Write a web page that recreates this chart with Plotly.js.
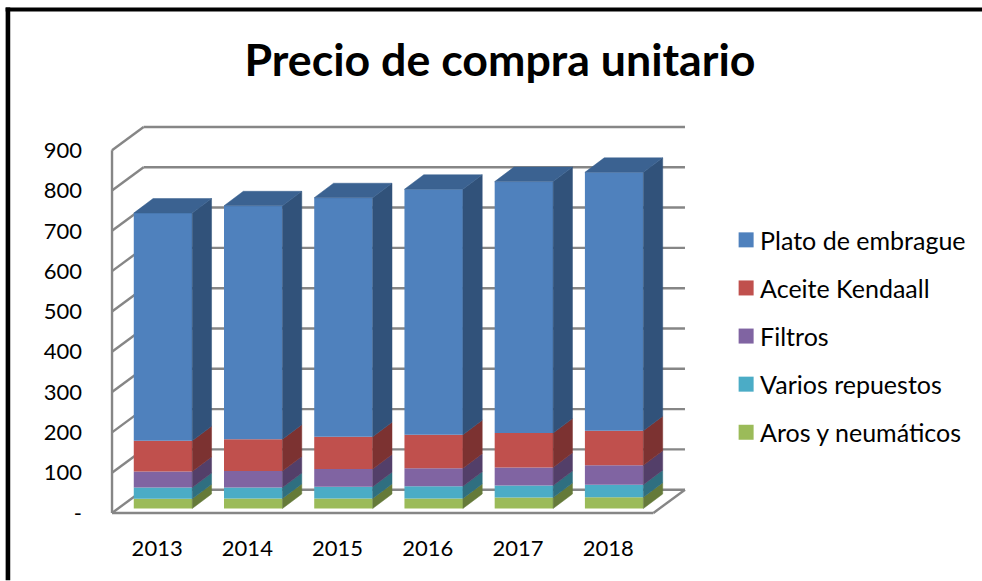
<!DOCTYPE html>
<html>
<head>
<meta charset="utf-8">
<script src="https://cdn.plot.ly/plotly-3.0.1.min.js"></script>
<style>html,body{margin:0;padding:0;background:#fff;overflow:hidden}#chart{width:982px;height:581px}</style>
</head>
<body>
<div id="chart"></div>
<script>
// ---------- data ----------
var years = ['2013','2014','2015','2016','2017','2018'];
var aros      = [24, 25, 25, 25, 27, 28];
var varios    = [28, 27, 29, 30, 30, 31];
var filtros   = [40, 41, 44, 45, 45, 48];
var aceite    = [76, 79, 80, 83, 85, 86];
var plato     = [565, 579, 593, 609, 624, 641];
var yTickVals = [0,100,200,300,400,500,600,700,800,900];
var yTickText = ['-','100','200','300','400','500','600','700','800','900'];

var names  = ['Aros y neumáticos','Varios repuestos','Filtros','Aceite Kendaall','Plato de embrague'];
var values = [aros, varios, filtros, aceite, plato];
var front  = ['#9bbb59','#4bacc6','#8064a2','#c0504d','#4f81bd'];
var side   = ['#657a39','#2f6f80','#533f69','#7c3231','#31527a'];
var topCol = '#3b6291';
var gridCol = '#868686';
var FONT = 'Lato, Carlito, sans-serif';

// ---------- 3-D projection parameters (axis units) ----------
var W = 982, H = 581;
var xRange = [-0.6, 5.95], yRange = [-10, 970];
var m = {l:103.3, r:288.1, t:121.7, b:63.5, pad:0, autoexpand:false};
var wallDX = 0.35, wallDY = 57.7;       // floor depth
var barDX = 0.214, barDY = 36;          // bar depth
var barShift = 0.065, barLift = 11.1;   // bar front offset from the front plane
var barW = 0.648;
var left = -0.5, right = 5.5;

function px(xp){return (xp-m.l)/(W-m.l-m.r);}
function py(yp){return 1-(yp-m.t)/(H-m.t-m.b);}

// ---------- traces ----------
var traces = [];
var centers = years.map(function(_,i){return i+barShift;});
var base = years.map(function(){return barLift;});

values.forEach(function(v,s){
  var b0 = base.slice();
  traces.push({type:'bar', name:names[s], x:centers, y:v, base:b0, width:barW,
    marker:{color:front[s], line:{width:0}}, showlegend:false, hoverinfo:'name+y'});
  var sx=[], sy=[];
  years.forEach(function(_,i){
    var xr=centers[i]+barW/2, lo=b0[i], hi=b0[i]+v[i];
    sx.push(xr,xr+barDX,xr+barDX,xr,xr,null);
    sy.push(lo,lo+barDY,hi+barDY,hi,lo,null);
    base[i]=hi;
  });
  traces.push({type:'scatter', mode:'lines', x:sx, y:sy, fill:'toself', fillcolor:side[s],
    line:{width:0.5,color:side[s]}, showlegend:false, hoverinfo:'skip'});
});
var tx=[], ty=[];
years.forEach(function(_,i){
  var xl=centers[i]-barW/2, xr=centers[i]+barW/2, h=base[i];
  tx.push(xl,xl+barDX,xr+barDX,xr,xl,null);
  ty.push(h,h+barDY,h+barDY,h,h,null);
});
traces.push({type:'scatter', mode:'lines', x:tx, y:ty, fill:'toself', fillcolor:topCol,
  line:{width:0.5,color:topCol}, showlegend:false, hoverinfo:'skip'});

// legend entries, top to bottom
[4,3,2,1,0].forEach(function(s){
  traces.push({type:'scatter', mode:'markers', name:names[s], legendgroup:names[s],
    x:[null], y:[null], marker:{symbol:'square', size:15, color:front[s]}, showlegend:true});
});

// ---------- 3-D walls drawn as shapes under the traces ----------
function ln(x0,y0,x1,y1){
  return {type:'line', layer:'below', xref:'x', yref:'y', x0:x0,y0:y0,x1:x1,y1:y1,
          line:{color:gridCol,width:2.4}};
}
var shapes = [];
yTickVals.forEach(function(t){
  shapes.push(ln(left+wallDX, t+wallDY, right+wallDX, t+wallDY));
  shapes.push(ln(left, t, left+wallDX, t+wallDY));
});
shapes.push(ln(left,0,left,900));
shapes.push(ln(left,0,right,0));
shapes.push(ln(right,0,right+wallDX,wallDY));
// outer frame: top and left edges only
shapes.push({type:'line', layer:'above', xref:'paper', yref:'paper', x0:px(6), x1:px(982), y0:py(8.9), y1:py(8.9), line:{color:'#000',width:4}});
shapes.push({type:'line', layer:'above', xref:'paper', yref:'paper', x0:px(8.3), x1:px(8.3), y0:py(7), y1:py(581), line:{color:'#000',width:4.6}});

var layout = {
  width:W, height:H, margin:m, paper_bgcolor:'#fff', plot_bgcolor:'rgba(0,0,0,0)',
  barmode:'overlay', showlegend:true,
  title:{text:'<b>Precio de compra unitario</b>', font:{family:FONT,size:44.7,color:'#000'},
    xref:'container', yref:'container', x:500/W, xanchor:'center', y:1-60/H, yanchor:'middle'},
  font:{family:FONT,size:22,color:'#000'},
  xaxis:{type:'linear', range:xRange, tickmode:'array', tickvals:[0,1,2,3,4,5], ticktext:years, automargin:false,
    showgrid:false, zeroline:false, showline:false, ticks:'', ticklabelstandoff:16, tickfont:{family:FONT,size:22,color:'#000'}},
  yaxis:{type:'linear', range:yRange, tickmode:'array', tickvals:yTickVals, ticktext:yTickText, automargin:false,
    showgrid:false, zeroline:false, showline:false, ticks:'', ticklabelstandoff:20, tickfont:{family:FONT,size:22,color:'#000'}},
  legend:{x:px(726), y:py(217), xanchor:'left', yanchor:'top', bgcolor:'rgba(0,0,0,0)',
    traceorder:'grouped', tracegroupgap:12.6, font:{family:FONT,size:25,color:'#000'}},
  shapes:shapes
};

Plotly.newPlot('chart', traces, layout, {displayModeBar:false, responsive:false}).then(function(){
  // swatch-to-label gap of the original legend
  document.querySelectorAll('#chart .legend .legendtext').forEach(function(t){
    t.setAttribute('x', +t.getAttribute('x') - 6);
  });
});
</script>
</body>
</html>
